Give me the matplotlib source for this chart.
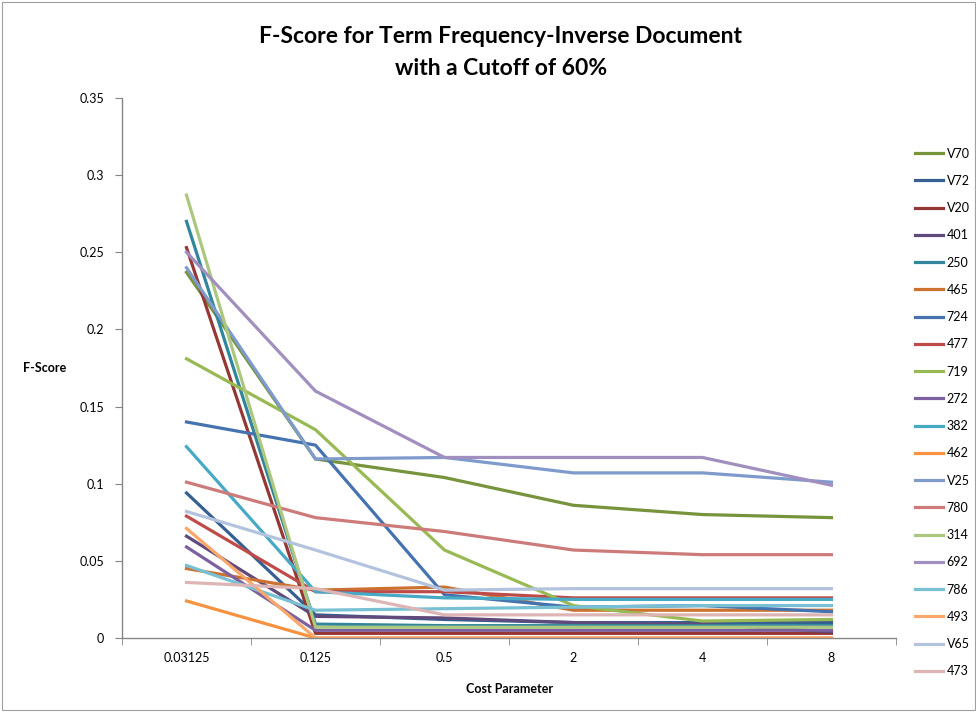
import matplotlib
matplotlib.use("Agg")
import matplotlib.pyplot as plt
from matplotlib.patches import Rectangle

plt.rcParams['font.family'] = ['Lato', 'DejaVu Sans']

categories = ["0.03125", "0.125", "0.5", "2", "4", "8"]

series_names = ["V70", "V72", "V20", "401", "250", "465", "724", "477", "719", "272",
                "382", "462", "V25", "780", "314", "692", "786", "493", "V65", "473"]

V70 = [0.237, 0.116, 0.104, 0.086, 0.080, 0.078]
V72 = [0.094, 0.015, 0.012, 0.010, 0.010, 0.010]
V20 = [0.253, 0.003, 0.003, 0.003, 0.003, 0.003]
s401 = [0.066, 0.014, 0.013, 0.010, 0.009, 0.004]
s250 = [0.270, 0.009, 0.008, 0.008, 0.008, 0.008]
s465 = [0.045, 0.031, 0.033, 0.018, 0.018, 0.018]
s724 = [0.140, 0.125, 0.028, 0.020, 0.021, 0.017]
s477 = [0.079, 0.030, 0.030, 0.026, 0.026, 0.026]
s719 = [0.181, 0.135, 0.057, 0.021, 0.011, 0.012]
s272 = [0.059, 0.005, 0.005, 0.005, 0.005, 0.005]
s382 = [0.124, 0.030, 0.026, 0.025, 0.025, 0.025]
s462 = [0.024, 0.000, 0.000, 0.000, 0.000, 0.000]
V25 = [0.240, 0.116, 0.117, 0.107, 0.107, 0.101]
s780 = [0.101, 0.078, 0.069, 0.057, 0.054, 0.054]
s314 = [0.287, 0.007, 0.007, 0.007, 0.007, 0.007]
s692 = [0.250, 0.160, 0.117, 0.117, 0.117, 0.099]
s786 = [0.047, 0.018, 0.019, 0.020, 0.021, 0.021]
s493 = [0.071, 0.000, 0.000, 0.000, 0.000, 0.000]
V65 = [0.082, 0.057, 0.031, 0.032, 0.032, 0.032]
s473 = [0.036, 0.032, 0.015, 0.015, 0.015, 0.015]

series_values = [V70, V72, V20, s401, s250, s465, s724, s477, s719, s272,
                 s382, s462, V25, s780, s314, s692, s786, s493, V65, s473]

colors = ["#77933C", "#376092", "#953735", "#604A7B", "#31859C", "#CC7230",
          "#4573B0", "#BE4B48", "#98B954", "#7D60A0", "#46AAC5", "#F69240",
          "#7E9BCC", "#CD7B7A", "#ABC87E", "#A08FBF", "#78C0D4", "#F9A86A",
          "#B3C3DD", "#DDB5B5"]

y_ticks = [0, 0.05, 0.1, 0.15, 0.2, 0.25, 0.3, 0.35]
y_tick_labels = ["0", "0.05", "0.1", "0.15", "0.2", "0.25", "0.3", "0.35"]

fig = plt.figure(figsize=(9.76, 7.13), dpi=100)
ax = fig.add_axes([0.125, 0.1052, 0.793, 0.7574])

x = list(range(len(categories)))
for name, vals, c in zip(series_names, series_values, colors):
    ax.plot(x, vals, color=c, lw=2.3, label=name, solid_joinstyle='round')

ax.set_xlim(-0.5, len(categories) - 0.5)
ax.set_ylim(0, 0.35)
ax.set_yticks(y_ticks)
ax.set_yticklabels(y_tick_labels)
ax.set_xticks(x)
ax.set_xticklabels(categories)
ax.set_xticks([i - 0.5 for i in range(len(categories) + 1)], minor=True)
ax.tick_params(axis='x', which='major', length=0, pad=10, labelsize=9)
ax.tick_params(axis='x', which='minor', length=5, color='#868686', direction='out')
ax.tick_params(axis='y', length=5, color='#868686', labelsize=9, pad=8)

for s in ['top', 'right']:
    ax.spines[s].set_visible(False)
for s in ['left', 'bottom']:
    ax.spines[s].set_color('#868686')
    ax.spines[s].set_linewidth(1)

fig.text(0.513, 0.949, "F-Score for Term Frequency-Inverse Document", ha='center', va='center',
         fontsize=16.5, fontweight='bold')
fig.text(0.513, 0.904, "with a Cutoff of 60%", ha='center', va='center',
         fontsize=16.5, fontweight='bold')
fig.text(0.046, 0.484, "F-Score", ha='center', va='center', fontsize=9, fontweight='bold')
fig.text(0.522, 0.034, "Cost Parameter", ha='center', va='center', fontsize=9, fontweight='bold')

leg = fig.legend(loc='upper left', bbox_to_anchor=(0.938, 0.793), frameon=False,
                 fontsize=9, handlelength=2.2, handletextpad=0.3,
                 labelspacing=1.22, borderaxespad=0, borderpad=0)

fig.patches.append(Rectangle((0.002, 0.004), 0.997, 0.993, transform=fig.transFigure,
                             fill=False, edgecolor='#A0A0A0', lw=0.8))

fig.savefig("out.png", dpi=100)
